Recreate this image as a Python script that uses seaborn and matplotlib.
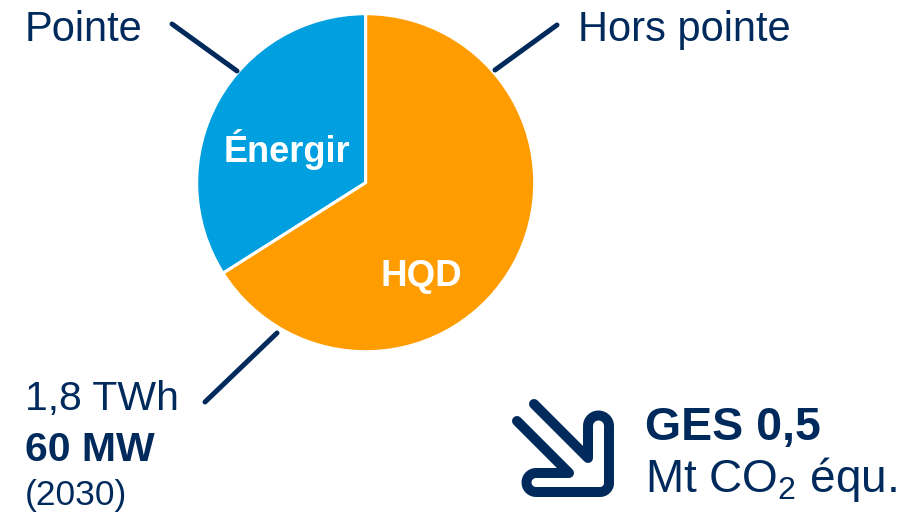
import numpy as np
import matplotlib
matplotlib.use('Agg')
import matplotlib.pyplot as plt
import seaborn as sns

# données
segments = ['Énergir', 'HQD']
parts = [34, 66]
couleurs = ['#009FDF', '#FF9C00']
navy = '#002A5C'

sns.set_theme(style='white')
plt.rcParams['font.family'] = ['Liberation Sans', 'DejaVu Sans']
plt.rcParams['mathtext.fontset'] = 'custom'
plt.rcParams['mathtext.rm'] = 'Liberation Sans'

W, H = 910, 513
fig = plt.figure(figsize=(W / 100, H / 100), dpi=100)
fig.patch.set_facecolor('white')

# pie (cercle ~ centre (366,183), rayon 169 px)
cx, cy, r = 365.7, 182.7, 169
ax_pie = fig.add_axes([(cx - r) / W, (H - cy - r) / H, 2 * r / W, 2 * r / H])
ax_pie.pie(parts, colors=couleurs, startangle=90, counterclock=True,
           wedgeprops=dict(edgecolor='white', linewidth=2.2))
ax_pie.set_xlim(-1, 1)
ax_pie.set_ylim(-1, 1)

# calque en pixels pour textes et traits
ax = fig.add_axes([0, 0, 1, 1])
ax.set_xlim(0, W)
ax.set_ylim(H, 0)
ax.axis('off')

ax.text(286.5, 162, segments[0], color='white', fontsize=26, fontweight='bold',
        ha='center', va='baseline')
ax.text(421.5, 286, segments[1], color='white', fontsize=26.5, fontweight='bold',
        ha='center', va='baseline')

# traits de rappel
for (x0, y0), (x1, y1) in [((172, 24), (237, 71)),
                           ((557, 25), (495, 70)),
                           ((277, 333), (205, 402))]:
    ax.plot([x0, x1], [y0, y1], color=navy, lw=3.6, solid_capstyle='round')

ax.text(25, 40.7, 'Pointe', color=navy, fontsize=30, va='baseline')
ax.text(578, 40.7, 'Hors pointe', color=navy, fontsize=30, va='baseline')
ax.text(25, 410, '1,8 TWh', color=navy, fontsize=29.5, va='baseline')
ax.text(25, 461, '60 MW', color=navy, fontsize=29.5, fontweight='bold', va='baseline')
ax.text(25, 505, '(2030)', color=navy, fontsize=25.5, va='baseline')

ax.text(645, 440, 'GES 0,5', color=navy, fontsize=33.5, fontweight='bold', va='baseline')
ax.text(645, 491.5, r'Mt CO$_{\mathrm{2}}$ équ.', color=navy, fontsize=33, va='baseline')

# icône flèche
def arc(xc, yc, rad, a0, a1, n=20):
    t = np.radians(np.linspace(a0, a1, n))
    return list(zip(xc + rad * np.cos(t), yc + rad * np.sin(t)))

pts = [(534, 404), (588, 458), (588, 426)]
pts += arc(598.5, 426, 10.5, 180, 360)
pts += [(609, 483)]
pts += arc(600, 483, 9, 0, 90)
pts += [(536, 492)]
pts += arc(536, 482.5, 9.5, 90, 270)
pts += [(569, 473), (517, 421)]
xs, ys = zip(*pts)
ax.plot(xs, ys, color=navy, lw=7.2, solid_capstyle='round', solid_joinstyle='round')

fig.savefig('out.png', dpi=100, facecolor='white')
